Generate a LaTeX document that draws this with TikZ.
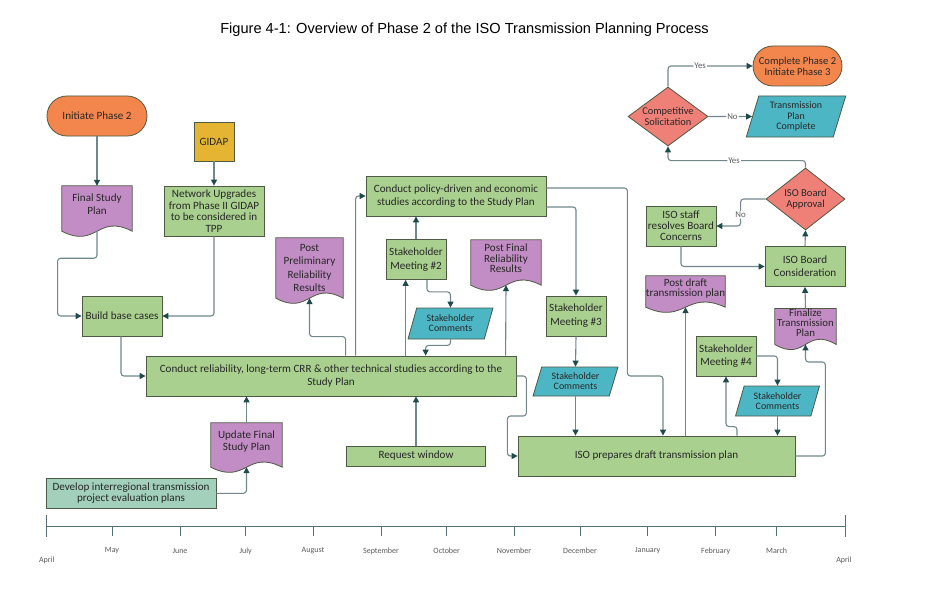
\documentclass[tikz,border=0pt]{standalone}
\usepackage{fontspec}
\setmainfont{Carlito}
\newfontfamily\titlefont{Liberation Sans}
\usetikzlibrary{arrows.meta,shapes.geometric,calc,backgrounds}
\definecolor{boxgreen}{RGB}{169,208,142}
\definecolor{boxline}{RGB}{78,90,68}
\definecolor{docpurple}{RGB}{194,140,196}
\definecolor{paracyan}{RGB}{76,182,196}
\definecolor{diared}{RGB}{238,128,120}
\definecolor{termorange}{RGB}{243,134,76}
\definecolor{gidapyellow}{RGB}{228,180,50}
\definecolor{devgreen}{RGB}{162,208,186}
\definecolor{connline}{RGB}{112,136,140}
\definecolor{arrowdark}{RGB}{30,74,76}
\definecolor{txt}{RGB}{40,40,40}
\definecolor{axiscol}{RGB}{84,112,118}
\definecolor{monthtxt}{RGB}{90,90,90}
\newcommand{\fs}[2]{\fontsize{#1}{#2}\selectfont}
\newcommand{\docshape}[1]{%
  \begin{pgfonlayer}{background}
  \draw[draw=boxline, fill=docpurple, line width=0.8pt]
    (#1.north west) -- (#1.north east) -- (#1.south east)
    .. controls ($(#1.south)+(0,-18)$) and ($(#1.south)+(0,18)$) .. (#1.south west) -- cycle;
  \end{pgfonlayer}}
\begin{document}
\begin{tikzpicture}[x=1pt,y=-1pt,
  every node/.style={inner sep=0pt, align=center, text=txt},
  base/.style={draw=boxline, line width=0.8pt, font=\fs{11.1}{13.3}},
  gbox/.style={base, rectangle, fill=boxgreen},
  term/.style={base, rectangle, rounded corners=19.9pt, fill=termorange},
  gidapbox/.style={base, rectangle, fill=gidapyellow},
  devbox/.style={base, rectangle, fill=devgreen},
  docnode/.style={rectangle, font=\fs{11.1}{13.3}},
  dia/.style={base, diamond, fill=diared},
  para/.style={base, trapezium, trapezium left angle=70, trapezium right angle=110,
     trapezium stretches=true, fill=paracyan, font=\fs{9.9}{10}},
  conn/.style={draw=connline, line width=1.1pt, rounded corners=3pt,
     -{Triangle[length=6pt,width=6pt,color=arrowdark]}},
  lbl/.style={fill=white, font=\fs{8.8}{9}, text=monthtxt, inner sep=1pt},
  tick/.style={draw=axiscol, line width=1pt},
  month/.style={font=\fs{8}{9}, text=monthtxt}
]
\begin{pgfonlayer}{background}
\fill[white] (0,0) rectangle (928,615);
\end{pgfonlayer}
\useasboundingbox (0,0) rectangle (928,615);

% title
\node[font=\titlefont\fs{14.6}{16}, text=black] (title) at (464.5,30) {Figure 4-1: Overview of Phase 2 of the ISO Transmission Planning Process};

% nodes
\node[term, minimum width=100, minimum height=40] (ip2) at (97,116) {Initiate Phase 2};
\node[gidapbox, minimum width=40, minimum height=39] (gidap) at (214,141.5) {GIDAP};
\node[docnode, minimum width=70, minimum height=45] (fsp) at (97,208.5) {Final Study\\Plan\\[-4pt]};
\node[gbox, minimum width=100, minimum height=50, font=\fs{11.1}{11.5}] (nu) at (214,211) {Network Upgrades\\from Phase II GIDAP\\to be considered in\\TPP};
\node[gbox, minimum width=80, minimum height=40] (bbc) at (122,316) {Build base cases};
\node[docnode, minimum width=67, minimum height=60] (ppr) at (309.5,268) {Post\\Preliminary\\Reliability\\Results};
\node[gbox, minimum width=180, minimum height=40] (cp) at (456,196) {Conduct policy-driven and economic\\studies according to the Study Plan};
\node[gbox, minimum width=60, minimum height=40, font=\fs{11.1}{14}] (smt2) at (416,259.5) {Stakeholder\\Meeting \#2};
\node[para, minimum width=85, minimum height=31] (sc2) at (450.5,323.5) {Stakeholder\\Comments};
\node[docnode, minimum width=70, minimum height=45, font=\fs{11.1}{10.5}] (pfr) at (506,262.5) {Post Final\\Reliability\\Results\\[-2pt]};
\node[gbox, minimum width=60, minimum height=40, font=\fs{11.1}{14}] (smt3) at (576,316) {Stakeholder\\Meeting \#3};
\node[para, minimum width=85, minimum height=29] (sc3) at (575.5,381.5) {Stakeholder\\Comments};
\node[gbox, minimum width=370, minimum height=40] (cr) at (331,376) {Conduct reliability, long-term CRR \& other technical studies according to the\\Study Plan};
\node[docnode, minimum width=71, minimum height=44, font=\fs{11.1}{12}] (ufsp) at (246.5,445) {Update Final\\Study Plan\\[-3pt]};
\node[devbox, minimum width=170, minimum height=30, font=\fs{11.1}{8.5}] (dev) at (131,493.3) {Develop interregional transmission\\project evaluation plans};
\node[gbox, minimum width=139, minimum height=20] (rw) at (416,456) {Request window};
\node[gbox, minimum width=277, minimum height=40] (iso) at (656.5,456) {ISO prepares draft transmission plan};
\node[docnode, minimum width=79, minimum height=31, font=\fs{11.1}{10}] (pdt) at (685.5,291.5) {Post draft\\transmission plan\\[-2pt]};
\node[gbox, minimum width=60, minimum height=40, font=\fs{11.1}{13.3}] (smt4) at (726,356) {Stakeholder\\Meeting \#4};
\node[para, minimum width=84, minimum height=30] (sc4) at (777.5,401) {Stakeholder\\Comments};
\node[docnode, minimum width=61, minimum height=35, font=\fs{10.8}{10}] (ftp) at (805.5,326.5) {Finalize\\Transmission\\Plan\\[-2pt]};
\node[gbox, minimum width=80, minimum height=40, font=\fs{11.1}{12.7}] (ibc) at (805,266.5) {ISO Board\\Consideration};
\node[gbox, minimum width=70, minimum height=40, font=\fs{11.1}{10.8}] (staff) at (681,226) {ISO staff\\resolves Board\\Concerns};
\node[dia, minimum width=79, minimum height=62, shape aspect=1.3, font=\fs{10.6}{10.7}] (iba) at (805.5,199) {ISO Board\\Approval};
\node[dia, minimum width=80, minimum height=59, shape aspect=1.35, font=\fs{10.4}{10.3}] (cs) at (668,116.5) {Competitive\\Solicitation};
\node[para, minimum width=100, minimum height=41, trapezium left angle=73, trapezium right angle=107, font=\fs{10}{10.2}] (tpc) at (796,116.5) {Transmission\\Plan\\Complete};
\node[term, minimum width=89, minimum height=40, font=\fs{10.6}{11}] (cp23) at (797.5,66) {Complete Phase 2\\Initiate Phase 3};

\docshape{fsp}
\docshape{ppr}
\docshape{pfr}
\docshape{ufsp}
\docshape{pdt}
\docshape{ftp}

% connectors
\draw[conn] (ip2.south) -- (fsp.north);
\draw[conn] (gidap.south) -- (nu.north);
\draw[conn] (fsp.south) -- ++(0,27) -| ($(bbc.west)+(-24,0)$) -- (bbc.west);
\draw[conn] (nu.south) |- (bbc.east);
\draw[conn] ([xshift=-1pt]bbc.south) |- (cr.west);
\draw[conn] ($(cr.north west)+(210,0)$) |- (cp.west);
\draw[conn] ($(cr.north west)+(200,0)$) -- ++(0,-19) -| (ppr.south);
\draw[conn] ($(cr.north west)+(260,0)$) -- ($(smt2.south west)+(20,0)$);
\draw[conn] (smt2.north) -- (smt2.north |- cp.south);
\draw[conn] ($(smt2.south)+(11,0)$) -- ++(0,12) -| (sc2.north);
\draw[conn] (sc2.south) -- ++(0,6) -| ($(cr.north west)+(280,0)$);
\draw[conn] ($(cr.north west)+(360,0)$) -- (pfr.south);
\draw[conn] (cr.east) -- ++(10,0) -- ++(0,40) -- ++(-19,0) |- (iso.west);
\draw[conn] ($(cp.east)+(0,-8)$) -- ++(81,0) -- ++(0,188) -| ($(iso.north)+(6.5,0)$);
\draw[conn] ($(cp.east)+(0,11)$) -| (smt3.north);
\draw[conn] (smt3.south) -- (sc3.north);
\draw[conn] (sc3.south) -- (sc3.south |- iso.north);
\draw[conn] (pdt.south |- iso.north) -- (pdt.south);
\draw[conn] ($(iso.north)+(80.5,0)$) -- ++(0,-9) -| (smt4.south);
\draw[conn] (smt4.east) -| (sc4.north);
\draw[conn] (sc4.south) -- (sc4.south |- iso.north);
\draw[conn] (iso.east) -- ++(30,0) -- ++(0,-94) -| (ftp.south);
\draw[conn] (ftp.north) -- (ibc.south);
\draw[conn] (ibc.north) -- (iba.south);
\draw[conn] (iba.west) -- ++(-25,0) |- node[lbl,pos=0.29]{No} (staff.east);
\draw[conn] (staff.south) |- (ibc.west);
\draw[conn] (iba.north) -- ++(0,-7) -| node[lbl,pos=0.26]{Yes} (cs.south);
\draw[conn] (cs.east) -- node[lbl,pos=0.55]{No} (tpc.west);
\draw[conn] (cs.north) |- node[lbl,pos=0.69]{Yes} (cp23.west);
\draw[conn] (dev.east) -| (ufsp.south);
\draw[conn] (ufsp.north) -- (ufsp.north |- cr.south);
\draw[conn] (rw.north) -- (rw.north |- cr.south);

% timeline
\draw[tick] (46.7,526) -- (845,526);
\draw[tick] (46.7,515) -- (46.7,537);
\draw[tick] (845,515) -- (845,537);
\foreach \x in {112,180,245.7,313,381,446.7,514,580,647.7,715.7,776.7}
  \draw[tick] (\x,526) -- (\x,536);
\node[month] (mApr) at (46.7,560) {April};
\node[month] (mMay) at (112,551) {May};
\node[month] (mJun) at (180,551) {June};
\node[month] (mJul) at (245.7,551) {July};
\node[month] (mAug) at (313,551) {August};
\node[month] (mSep) at (381,551) {September};
\node[month] (mOct) at (446.7,551) {October};
\node[month] (mNov) at (514,551) {November};
\node[month] (mDec) at (580,551) {December};
\node[month] (mJan) at (647.7,551) {January};
\node[month] (mFeb) at (715.7,551) {February};
\node[month] (mMar) at (776.7,551) {March};
\node[month] (mApr2) at (844,560) {April};
\end{tikzpicture}
\end{document}
